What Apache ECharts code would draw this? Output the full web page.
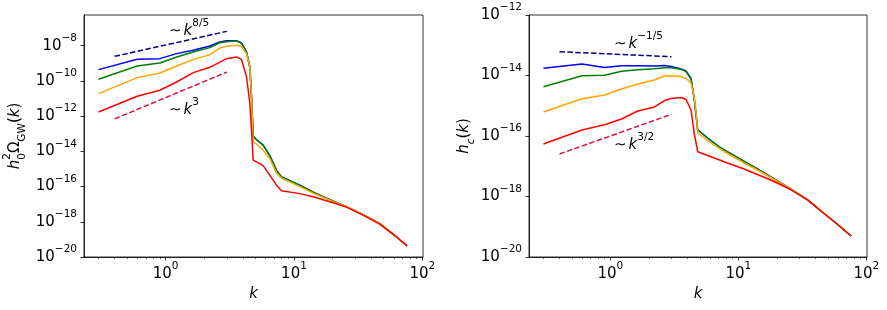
<!DOCTYPE html>
<html><head><meta charset="utf-8">
<script src="https://cdn.jsdelivr.net/npm/echarts@6/dist/echarts.min.js"></script>
<style>html,body{margin:0;padding:0;background:#fff}#c{width:887px;height:310px}</style>
</head><body><div id="c"></div>
<script>
// ---------- data ----------
const kValues = [0.3, 0.6, 0.9, 1.22, 1.64, 2.21, 2.65, 2.98, 3.57, 3.9, 4.27, 4.53, 4.67, 4.81, 5.11, 5.75, 6.48, 7.31, 8.0, 11.1, 14.1, 19.0, 25.6, 34.5, 46.5, 59.1, 76];

const omegaBlue   = [4.36e-10, 1.67e-9, 1.83e-9, 3.52e-9, 5.42e-9, 9.48e-9, 1.60e-8, 1.92e-8, 1.92e-8, 1.44e-8, 4.34e-9, 6.12e-10, 1.22e-11, 7.21e-14, 4.57e-14, 2.23e-14, 5.68e-15, 8.30e-16, 3.56e-16, 1.20e-16, 4.82e-17, 1.82e-17, 7.28e-18, 2.56e-18, 8.11e-19, 2.01e-19, 4.19e-20];
const omegaGreen  = [1.23e-10, 6.98e-10, 1.03e-9, 2.26e-9, 4.34e-9, 7.71e-9, 1.48e-8, 1.64e-8, 1.82e-8, 1.35e-8, 4.17e-9, 5.89e-10, 1.17e-11, 7.21e-14, 4.57e-14, 2.23e-14, 5.68e-15, 8.30e-16, 3.56e-16, 1.20e-16, 4.82e-17, 1.82e-17, 7.28e-18, 2.56e-18, 8.11e-19, 2.01e-19, 4.19e-20];
const omegaOrange = [1.90e-11, 1.53e-10, 2.80e-10, 6.98e-10, 1.61e-9, 3.09e-9, 7.31e-9, 9.12e-9, 1.04e-8, 9.12e-9, 3.52e-9, 5.89e-10, 1.22e-11, 3.43e-14, 2.54e-14, 1.16e-14, 3.93e-15, 5.77e-16, 3.01e-16, 9.91e-17, 4.24e-17, 1.70e-17, 7.28e-18, 2.56e-18, 8.11e-19, 2.01e-19, 4.19e-20];
const omegaRed    = [1.72e-12, 1.34e-11, 2.92e-11, 8.65e-11, 2.94e-10, 5.89e-10, 1.17e-9, 1.83e-9, 2.26e-9, 1.67e-9, 1.66e-10, 5.36e-12, 1.58e-13, 3.15e-15, 2.52e-15, 1.53e-15, 4.44e-16, 1.20e-16, 5.71e-17, 3.97e-17, 2.61e-17, 1.36e-17, 6.81e-18, 2.40e-18, 7.41e-19, 2.01e-19, 4.19e-20];

const hcBlue   = [1.73e-14, 2.40e-14, 1.84e-14, 2.09e-14, 2.09e-14, 2.06e-14, 2.14e-14, 1.99e-14, 1.64e-14, 1.41e-14, 7.96e-15, 1.55e-15, 4.94e-16, 1.58e-16, 1.31e-16, 8.59e-17, 5.87e-17, 4.01e-17, 3.19e-17, 1.45e-17, 8.11e-18, 3.79e-18, 1.80e-18, 7.90e-19, 2.80e-19, 1.23e-19, 4.94e-20];
const hcGreen  = [4.27e-15, 9.77e-15, 1.02e-14, 1.38e-14, 1.54e-14, 1.67e-14, 1.80e-14, 1.81e-14, 1.60e-14, 1.36e-14, 7.66e-15, 1.55e-15, 4.94e-16, 1.58e-16, 1.31e-16, 8.59e-17, 5.87e-17, 4.01e-17, 3.19e-17, 1.45e-17, 8.11e-18, 3.79e-18, 1.80e-18, 7.90e-19, 2.80e-19, 1.23e-19, 4.94e-20];
const hcOrange = [6.21e-16, 1.70e-15, 2.26e-15, 3.58e-15, 5.24e-15, 7.10e-15, 9.62e-15, 9.84e-15, 9.27e-15, 7.96e-15, 5.65e-15, 1.80e-15, 6.21e-16, 1.26e-16, 1.04e-16, 7.10e-17, 5.04e-17, 3.58e-17, 2.85e-17, 1.28e-17, 7.52e-18, 3.65e-18, 1.78e-18, 7.90e-19, 2.80e-19, 1.23e-19, 4.94e-20];
const hcRed    = [5.45e-17, 1.58e-16, 2.34e-16, 3.65e-16, 6.70e-16, 9.10e-16, 1.49e-15, 1.74e-15, 1.87e-15, 1.61e-15, 7.24e-16, 1.16e-16, 5.87e-17, 3.03e-17, 2.74e-17, 2.26e-17, 1.87e-17, 1.55e-17, 1.33e-17, 8.11e-18, 5.33e-18, 3.13e-18, 1.70e-18, 7.90e-19, 2.80e-19, 1.23e-19, 4.94e-20];

const slopeK = [0.4, 3.0];
const omegaSlope85 = [2.47e-9, 6.46e-8];
const omegaSlope3  = [6.92e-13, 3.16e-10];
const hcSlopeM15   = [6.12e-14, 4.18e-14];
const hcSlope32    = [2.54e-17, 5.21e-16];

const xMajorTicks = [1, 10, 100];
const xMinorTicks = [0.3, 0.4, 0.5, 0.6, 0.7, 0.8, 0.9, 2, 3, 4, 5, 6, 7, 8, 9, 20, 30, 40, 50, 60, 70, 80, 90];
const omegaTicks = [1e-20, 1e-18, 1e-16, 1e-14, 1e-12, 1e-10, 1e-8];
const hcTicks = [1e-20, 1e-18, 1e-16, 1e-14, 1e-12];

// ---------- styling ----------
const F = 'DejaVu Sans';
const LH = 26;
const rich = {
  n:   {fontFamily: F, fontSize: 15, lineHeight: LH, align: 'left', color: '#000'},
  t:   {fontFamily: F, fontSize: 15, lineHeight: LH, align: 'left', color: '#000', padding: [0, 2, 0, 0]},
  i:   {fontFamily: F, fontSize: 15, lineHeight: LH, align: 'left', fontStyle: 'italic', color: '#000'},
  s:   {fontFamily: F, fontSize: 10.5, lineHeight: 11, verticalAlign: 'top', align: 'left', color: '#000'},
  si:  {fontFamily: F, fontSize: 10.5, lineHeight: 11, verticalAlign: 'top', align: 'left', fontStyle: 'italic', color: '#000'},
  b:   {fontFamily: F, fontSize: 10.5, lineHeight: 17, verticalAlign: 'bottom', align: 'left', color: '#000'},
  b0:  {fontFamily: F, fontSize: 10.5, lineHeight: 17, verticalAlign: 'bottom', align: 'left', width: 0, color: '#000'},
  bi:  {fontFamily: F, fontSize: 10.5, lineHeight: 17, verticalAlign: 'bottom', align: 'left', fontStyle: 'italic', color: '#000'}
};
function powLabel(v) {
  const e = Math.round(Math.log10(v));
  return '{n|10}{s|' + (e < 0 ? '\u2212' + (-e) : e) + '}';
}
const lineW = 0.8;

function xAxes(grid) {
  return [
    {
      gridIndex: grid, type: 'log', min: 0.2312, max: 101.2, position: 'bottom',
      name: 'k', nameLocation: 'middle', nameGap: 30,
      nameTextStyle: {fontFamily: F, fontSize: 15, fontStyle: 'italic', color: '#000'},
      axisLine: {show: true, lineStyle: {color: '#000', width: lineW}},
      axisTick: {show: true, customValues: xMajorTicks, length: 3.5, lineStyle: {color: '#000', width: lineW}},
      axisLabel: {customValues: xMajorTicks, formatter: powLabel, rich: rich, margin: 4, fontFamily: F, fontSize: 15, color: '#000'},
      splitLine: {show: false}
    },
    {
      gridIndex: grid, type: 'log', min: 0.2312, max: 101.2, position: 'bottom',
      axisLine: {show: false},
      axisTick: {show: true, customValues: xMinorTicks, length: 2, lineStyle: {color: '#000', width: 0.6}},
      axisLabel: {show: false},
      splitLine: {show: false}
    }
  ];
}
function yAxis(grid, min, max, ticks, nameText, gap) {
  return {
    gridIndex: grid, type: 'log', min: min, max: max, position: 'left',
    name: nameText, nameLocation: 'middle', nameGap: gap, nameRotate: 90,
    nameTextStyle: {rich: rich, align: 'center'},
    axisLine: {show: true, lineStyle: {color: '#000', width: lineW}},
    axisTick: {show: true, customValues: ticks, length: 3.5, lineStyle: {color: '#000', width: lineW}},
    axisLabel: {customValues: ticks, formatter: powLabel, rich: rich, margin: 7, fontFamily: F, fontSize: 15, color: '#000'},
    splitLine: {show: false}
  };
}
function zip(xs, ys) { return xs.map((x, i) => [x, ys[i]]); }
function line(xi, yi, ks, vals, color, dashed) {
  return {
    type: 'line', xAxisIndex: xi, yAxisIndex: yi, data: zip(ks, vals),
    showSymbol: false, symbol: 'none', silent: true, animation: false,
    lineStyle: {color: color, width: 1.5, type: dashed ? [5.5, 2.4] : 'solid'},
    itemStyle: {color: color}
  };
}

const chart = echarts.init(document.getElementById('c'), null, {renderer: 'canvas'});
chart.setOption({
  backgroundColor: '#fff',
  animation: false,
  grid: [
    {left: 84, top: 15, width: 339, height: 242, show: true, borderColor: '#000', borderWidth: lineW, backgroundColor: 'transparent'},
    {left: 529, top: 15, width: 338, height: 242, show: true, borderColor: '#000', borderWidth: lineW, backgroundColor: 'transparent'}
  ],
  xAxis: xAxes(0).concat(xAxes(1)),
  yAxis: [
    yAxis(0, 1e-20, 5.5e-7, omegaTicks, '{i|h}{b0|0}{s|2}{n|\u03A9}{b|GW}{n|(}{i|k}{n|)}', 56),
    yAxis(1, 1e-20, 1e-12, hcTicks, '{i|h}{bi|c}{n|(}{i|k}{n|)}', 51)
  ],
  series: [
    line(0, 0, kValues, omegaBlue, '#0000ff'),
    line(0, 0, kValues, omegaGreen, '#008000'),
    line(0, 0, kValues, omegaOrange, '#ffa500'),
    line(0, 0, kValues, omegaRed, '#ff0000'),
    line(0, 0, slopeK, omegaSlope85, '#000080', true),
    line(0, 0, slopeK, omegaSlope3, '#dc143c', true),
    line(2, 1, kValues, hcBlue, '#0000ff'),
    line(2, 1, kValues, hcGreen, '#008000'),
    line(2, 1, kValues, hcOrange, '#ffa500'),
    line(2, 1, kValues, hcRed, '#ff0000'),
    line(2, 1, slopeK, hcSlopeM15, '#000080', true),
    line(2, 1, slopeK, hcSlope32, '#dc143c', true)
  ],
  graphic: [
    {type: 'text', x: 169, y: 18, silent: true, style: {text: '{t|\u223C}{i|k}{s|8/5}', rich: rich, align: 'left', verticalAlign: 'top'}},
    {type: 'text', x: 169, y: 97, silent: true, style: {text: '{t|\u223C}{i|k}{s|3}', rich: rich, align: 'left', verticalAlign: 'top'}},
    {type: 'text', x: 614, y: 31, silent: true, style: {text: '{t|\u223C}{i|k}{s|\u22121/5}', rich: rich, align: 'left', verticalAlign: 'top'}},
    {type: 'text', x: 614, y: 132, silent: true, style: {text: '{t|\u223C}{i|k}{s|3/2}', rich: rich, align: 'left', verticalAlign: 'top'}}
  ]
});
</script>
</body></html>
